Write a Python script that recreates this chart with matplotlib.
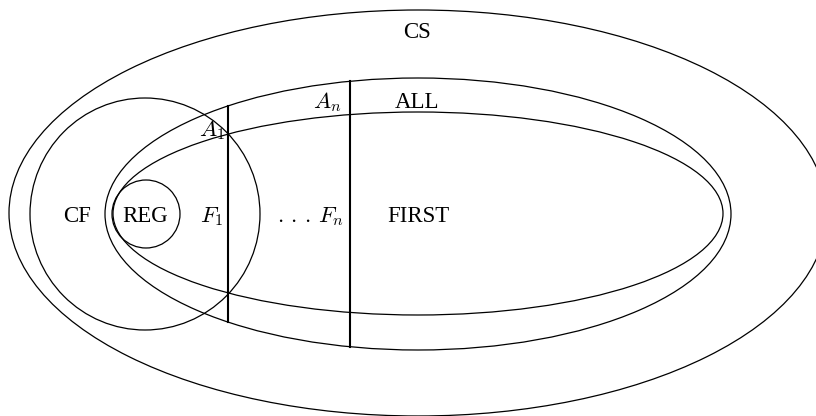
import matplotlib.pyplot as plt
import numpy as np
from matplotlib.patches import Ellipse

plt.rcParams['font.family'] = ['Liberation Serif', 'DejaVu Serif']
plt.rcParams['mathtext.fontset'] = 'cm'

# sets drawn as ellipses: name, centre x, centre y, width, height (pixel units)
set_names = ['CS', 'ALL', 'FIRST', 'CF', 'REG']
set_cx = [418, 418, 418, 145, 146]
set_cy = [213, 214, 213.5, 214, 214]
set_w = [818, 626, 610, 230, 68]
set_h = [406, 272, 203, 232, 68]

# vertical cuts through ALL at these x positions
cut_x = [228, 350]

# labels: text, x, baseline y
label_txt = ['CS', 'ALL', 'FIRST', 'CF', 'REG',
             r'$F_1$', r'$.\,.\,.\,F_n$', r'$A_n$', r'$A_1$']
label_x = [417, 417, 418, 77, 145, 212, 311, 327, 212]
label_y = [38.5, 107.5, 221.5, 221.5, 221.5, 222, 222, 108, 136]

fig = plt.figure(figsize=(8.16, 4.16), dpi=100)
ax = fig.add_axes([0, 0, 1, 1])
ax.set_xlim(0, 816)
ax.set_ylim(416, 0)
ax.axis('off')

for i in range(len(set_names)):
    e = Ellipse((set_cx[i], set_cy[i]), set_w[i], set_h[i],
                fill=False, edgecolor='black', lw=0.9)
    ax.add_patch(e)

# the cuts run from top to bottom of the ALL ellipse
k = set_names.index('ALL')
a = set_w[k] / 2
b = set_h[k] / 2
for x in cut_x:
    dy = b * np.sqrt(1 - ((x - set_cx[k]) / a) ** 2)
    ax.plot([x, x], [set_cy[k] - dy, set_cy[k] + dy], color='black', lw=1.5)

for t, x, y in zip(label_txt, label_x, label_y):
    ax.text(x, y, t, ha='center', va='baseline', fontsize=16.5)

fig.savefig('out.png', dpi=100)
